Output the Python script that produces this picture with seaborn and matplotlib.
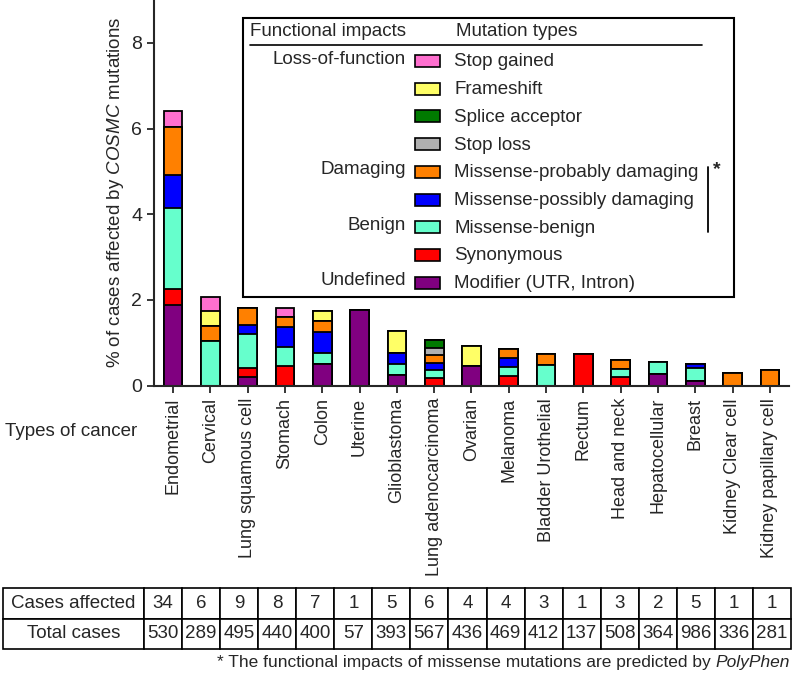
import matplotlib
matplotlib.use("Agg")
import matplotlib.pyplot as plt
from matplotlib.patches import Rectangle
from matplotlib.lines import Line2D
import numpy as np
import pandas as pd
import seaborn as sns

# data
cancers = ["Endometrial", "Cervical", "Lung squamous cell", "Stomach", "Colon",
           "Uterine", "Glioblastoma", "Lung adenocarcinoma", "Ovarian", "Melanoma",
           "Bladder Urothelial", "Rectum", "Head and neck", "Hepatocellular",
           "Breast", "Kidney Clear cell", "Kidney papillary cell"]
cases_affected = [34, 6, 9, 8, 7, 1, 5, 6, 4, 4, 3, 1, 3, 2, 5, 1, 1]
total_cases = [530, 289, 495, 440, 400, 57, 393, 567, 436, 469, 412, 137, 508, 364, 986, 336, 281]

# number of affected cases per mutation type (stack order: bottom -> top)
modifier = [10, 0, 1, 0, 2, 1, 1, 0, 2, 0, 0, 0, 0, 1, 1, 0, 0]
synonymous = [2, 0, 1, 2, 0, 0, 0, 1, 0, 1, 0, 1, 1, 0, 0, 0, 0]
missense_benign = [10, 3, 4, 2, 1, 0, 1, 1, 0, 1, 2, 0, 1, 1, 3, 0, 0]
missense_possibly = [4, 0, 1, 2, 2, 0, 1, 1, 0, 1, 0, 0, 0, 0, 1, 0, 0]
missense_probably = [6, 1, 2, 1, 1, 0, 0, 1, 0, 1, 1, 0, 1, 0, 0, 1, 1]
stop_loss = [0, 0, 0, 0, 0, 0, 0, 1, 0, 0, 0, 0, 0, 0, 0, 0, 0]
splice_acceptor = [0, 0, 0, 0, 0, 0, 0, 1, 0, 0, 0, 0, 0, 0, 0, 0, 0]
frameshift = [0, 1, 0, 0, 1, 0, 2, 0, 2, 0, 0, 0, 0, 0, 0, 0, 0]
stop_gained = [2, 1, 0, 1, 0, 0, 0, 0, 0, 0, 0, 0, 0, 0, 0, 0, 0]

stack_names = ["Modifier (UTR, Intron)", "Synonymous", "Missense-benign",
               "Missense-possibly damaging", "Missense-probably damaging",
               "Stop loss", "Splice acceptor", "Frameshift", "Stop gained"]
stack_counts = [modifier, synonymous, missense_benign, missense_possibly,
                missense_probably, stop_loss, splice_acceptor, frameshift, stop_gained]
stack_colors = ["#800080", "#FF0000", "#66FFCC", "#0000FF", "#FF8000",
                "#B0B0B0", "#007A00", "#FFFF66", "#FF6FCF"]

# legend rows (top -> bottom) with functional impact labels
legend_types = stack_names[::-1]
legend_colors = stack_colors[::-1]
impact_labels = {0: "Loss-of-function", 4: "Damaging", 6: "Benign", 8: "Undefined"}

# ------------------------------------------------------------------
sns.set_style("ticks")
plt.rcParams["font.family"] = ["Liberation Sans", "DejaVu Sans"]
plt.rcParams["mathtext.fontset"] = "custom"
plt.rcParams["mathtext.rm"] = "Liberation Sans"
plt.rcParams["mathtext.it"] = "Liberation Sans:italic"

W, H = 794, 676
fig = plt.figure(figsize=(W / 100, H / 100), dpi=100)


def fx(x):
    return x / W


def fy(y):
    return 1 - y / H


ax = fig.add_axes([fx(154), fy(385.5), 635 / W, 385.5 / H])

# percentages and cumulative tops
totals = np.array(total_cases, dtype=float)
pct = [np.array(c) / totals * 100 for c in stack_counts]
cum = np.cumsum(pct, axis=0)

rows = []
for i, name in enumerate(stack_names):
    for j, c in enumerate(cancers):
        rows.append({"cancer": c, "type": name, "top": cum[i][j]})
df = pd.DataFrame(rows)

# draw from the top layer down so each lower layer covers the one above
for i in range(len(stack_names) - 1, -1, -1):
    sub = df[df["type"] == stack_names[i]]
    sns.barplot(data=sub, x="cancer", y="top", order=cancers, color=stack_colors[i],
                saturation=1, width=0.5, edgecolor="black", linewidth=1.3,
                errorbar=None, ax=ax)

ax.set_xlim(-0.51, 16.51)
ax.set_ylim(0, 9)
ax.set_yticks([0, 2, 4, 6, 8])
ax.set_xlabel("")
ax.set_ylabel("% of cases affected by $\\it{COSMC}$ mutations", fontsize=13.5, labelpad=4)
ax.set_xticks(range(len(cancers)))
ax.set_xticklabels(cancers, rotation=90, fontsize=13)
ax.tick_params(axis="y", labelsize=14, length=5, width=1.3)
ax.tick_params(axis="x", length=5, width=1.3, pad=4)
sns.despine(ax=ax)
for s in ["left", "bottom"]:
    ax.spines[s].set_linewidth(1.5)

fig.text(fx(5), fy(432), "Types of cancer", fontsize=13.5, ha="left", va="center")

# ------------------------------------------------------------------
# legend box
fig.patches.append(Rectangle((fx(243), fy(297)), (734 - 243) / W, (297 - 18) / H,
                             transform=fig.transFigure, fill=False,
                             edgecolor="black", linewidth=1.5))
fig.text(fx(250), fy(32), "Functional impacts", fontsize=13.5, ha="left", va="center")
fig.text(fx(456), fy(32), "Mutation types", fontsize=13.5, ha="left", va="center")
fig.lines.append(Line2D([fx(250), fx(702)], [fy(45), fy(45)],
                        transform=fig.transFigure, color="black", linewidth=1.2))
for k, (name, col) in enumerate(zip(legend_types, legend_colors)):
    yc = 61 + k * 27.7
    fig.patches.append(Rectangle((fx(415), fy(yc + 6)), 25 / W, 12 / H,
                                 transform=fig.transFigure, facecolor=col,
                                 edgecolor="black", linewidth=1.2))
    fig.text(fx(454), fy(yc + 1), name, fontsize=13.5, ha="left", va="center")
    if k in impact_labels:
        fig.text(fx(406), fy(yc - 2), impact_labels[k], fontsize=13.5,
                 ha="right", va="center")
fig.lines.append(Line2D([fx(708), fx(708)], [fy(167), fy(232)],
                        transform=fig.transFigure, color="black", linewidth=1.3))
fig.text(fx(713), fy(170), "*", fontsize=14, fontweight="bold", ha="left", va="center")

# ------------------------------------------------------------------
# table of counts
narrow = ["Liberation Sans Narrow", "Liberation Sans", "DejaVu Sans"]
ax_t = fig.add_axes([fx(3), fy(649), 788 / W, (649 - 588) / H])
ax_t.axis("off")
cell_text = [["Cases affected"] + [str(v) for v in cases_affected],
             ["Total cases"] + [str(v) for v in total_cases]]
first_w = 141
col_w = (788 - first_w) / len(cancers)
widths = [first_w / 788] + [col_w / 788] * len(cancers)
tbl = ax_t.table(cellText=cell_text, colWidths=widths, cellLoc="center", bbox=[0, 0, 1, 1])
tbl.auto_set_font_size(False)
for (r, c), cell in tbl.get_celld().items():
    cell.set_linewidth(1.2)
    cell.get_text().set_fontsize(13.5)
    cell.get_text().set_family(narrow)
    if c == 0:
        cell._loc = "right"
        cell.PAD = 0.02

# footnote
t_it = fig.text(fx(790), fy(663), "PolyPhen", fontsize=12.5, style="italic",
                family=narrow, ha="right", va="center")
ax_t.annotate("* The functional impacts of missense mutations are predicted by ",
              xy=(0, 0.5), xycoords=t_it, ha="right", va="center",
              fontsize=12.5, family=narrow, annotation_clip=False)

fig.savefig("out.png", dpi=100)
